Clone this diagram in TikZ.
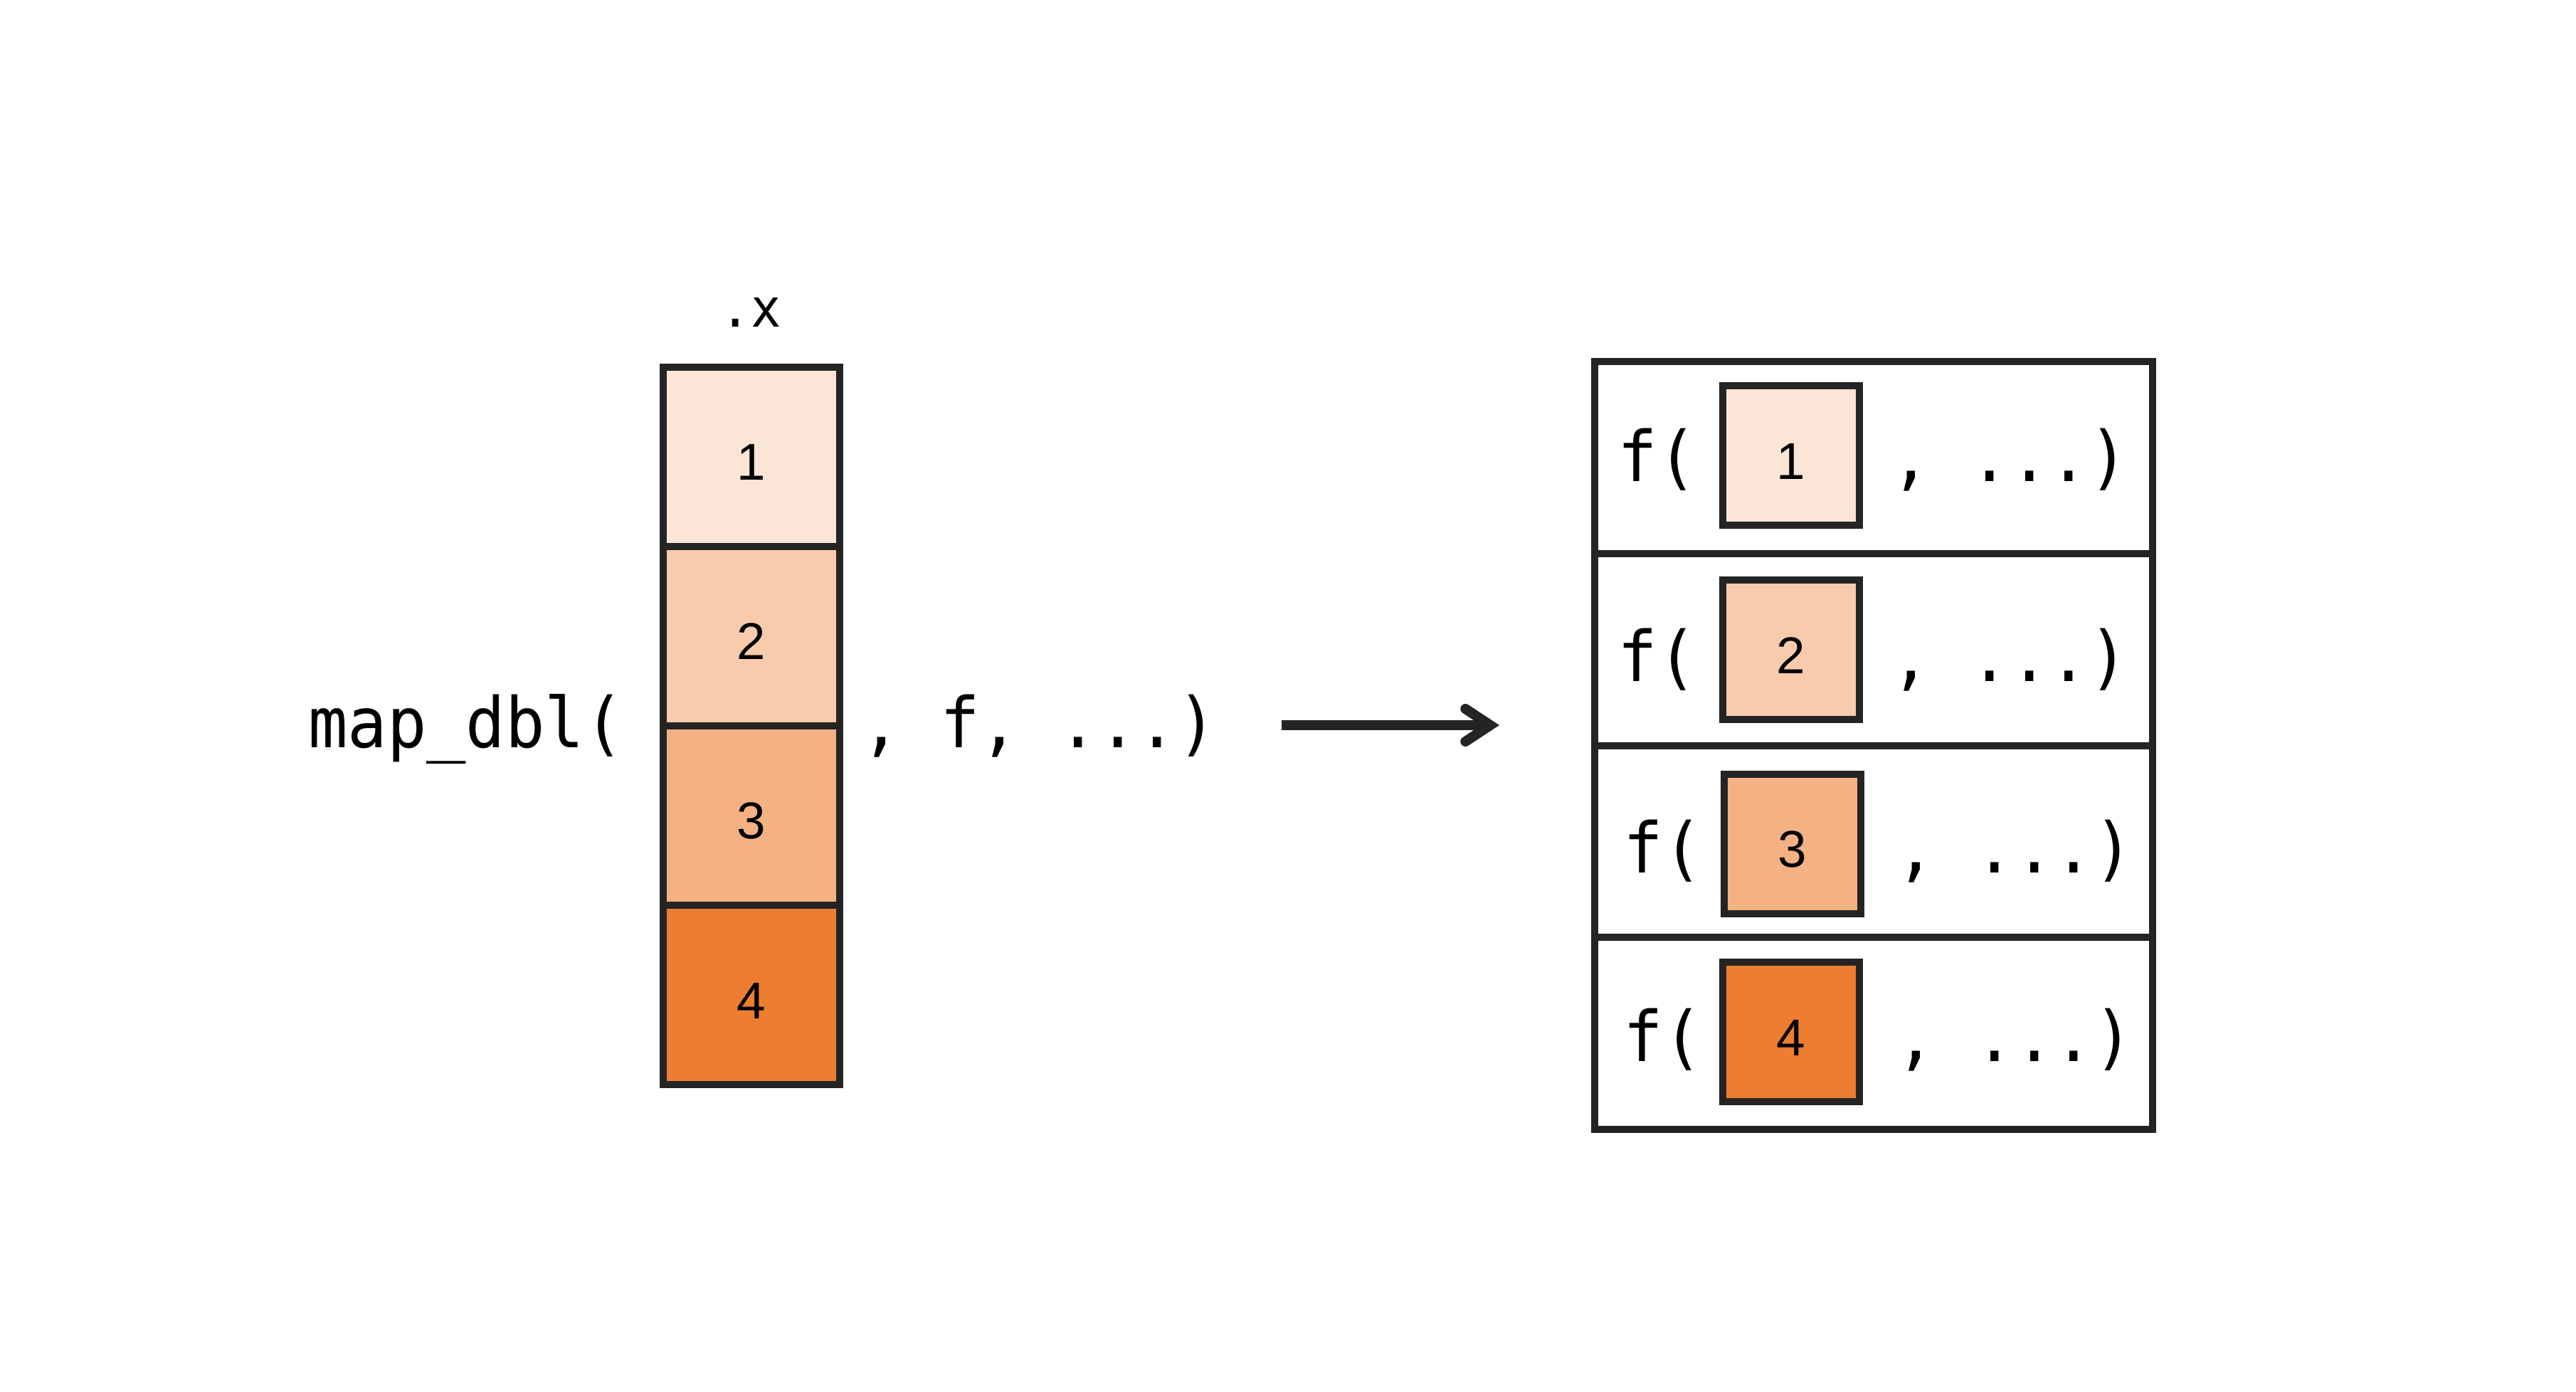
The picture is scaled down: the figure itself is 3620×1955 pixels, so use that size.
\documentclass[tikz,border=0pt]{standalone}
\usepackage{fontspec}
\usetikzlibrary{arrows.meta}
\newfontfamily\monof[FakeStretch=0.94]{DejaVu Sans Mono}
\newfontfamily\digf{Liberation Sans}
\definecolor{bordc}{HTML}{242424}
\definecolor{oA}{HTML}{FBE5D6}
\definecolor{oB}{HTML}{F8CBAD}
\definecolor{oC}{HTML}{F4B183}
\definecolor{oD}{HTML}{ED7D31}
\begin{document}
\begin{tikzpicture}[x=0.1mm,y=-0.1mm,
  cellbox/.style={draw=bordc, line width=1mm, minimum width=24.8mm, minimum height=25.2mm,
    inner sep=0pt, outer sep=0pt, font=\digf\fontsize{20.7pt}{22pt}\selectfont,
    text height=6.6mm, text depth=0mm},
  rowbox/.style={draw=bordc, line width=1mm, minimum width=78.4mm, minimum height=26.98mm,
    inner sep=0pt, outer sep=0pt, fill=white},
  inbox/.style={draw=bordc, line width=1mm, minimum width=19.2mm, minimum height=19.6mm,
    inner sep=0pt, outer sep=0pt, font=\digf\fontsize{20.7pt}{22pt}\selectfont,
    text height=6.6mm, text depth=0mm},
  code/.style={font=\monof\fontsize{27.9pt}{30pt}\selectfont, inner sep=0pt, anchor=base, text=black},
  smallcode/.style={font=\monof\fontsize{21.3pt}{23pt}\selectfont, inner sep=0pt, anchor=base, text=black}
]
\fill[white] (0,0) rectangle (3620,1955);
\useasboundingbox (0,0) rectangle (3620,1955);

% left column
\node[cellbox, fill=oA] (c1) at (1056,641.6) {1};
\node[cellbox, fill=oB] (c2) at (1056,893.8) {2};
\node[cellbox, fill=oC] (c3) at (1056,1145.8) {3};
\node[cellbox, fill=oD] (c4) at (1056,1398.3) {4};
\node[smallcode] (xlab) at (1055,459) {.x};
\node[code] (mapt) at (655,1050) {map\_dbl(};
\node[code] (restt) at (1460,1050) {, f, ...)};

% arrow
\coordinate (arrS) at (1801,1019);
\coordinate (arrE) at (2107,1019);
\draw[bordc, line width=1.4mm, -{Straight Barb[length=3.5mm, width=4.6mm, line cap=round, line join=miter]}] (arrS) -- (arrE);

% right rows
\node[rowbox] (r1) at (2633,642.9) {};
\node[rowbox] (r2) at (2633,912.6) {};
\node[rowbox] (r3) at (2633,1182.4) {};
\node[rowbox] (r4) at (2633,1452.1) {};

\node[inbox, fill=oA] (b1) at (2516.5,640) {1};
\node[inbox, fill=oB] (b2) at (2516.5,913) {2};
\node[inbox, fill=oC] (b3) at (2518.5,1185.5) {3};
\node[inbox, fill=oD] (b4) at (2516.5,1450) {4};

\node[code] (fa) at (2329,676.5) {f(};
\node[code] (fb) at (2329,957.6) {f(};
\node[code] (fc) at (2337,1226.4) {f(};
\node[code] (fd) at (2337,1491.6) {f(};
\node[code] (ea) at (2824,676.5) {, ...)};
\node[code] (eb) at (2824,957.6) {, ...)};
\node[code] (ec) at (2831,1226.4) {, ...)};
\node[code] (ed) at (2831,1491.6) {, ...)};
\end{tikzpicture}
\end{document}
